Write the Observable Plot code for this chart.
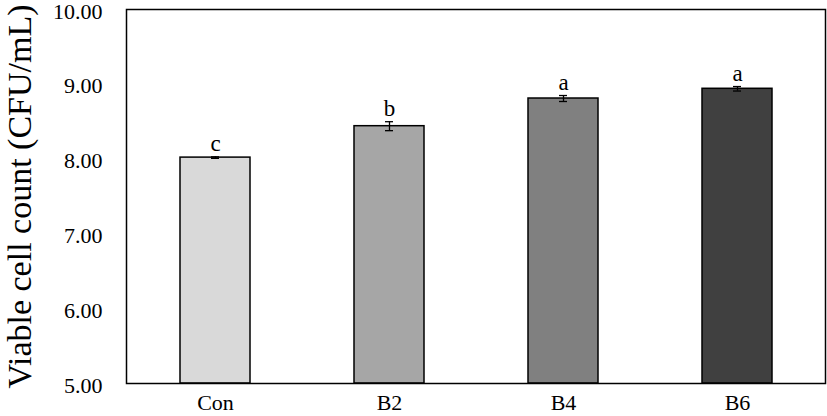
<!DOCTYPE html>
<html>
<head>
<meta charset="utf-8">
<script src="https://cdn.jsdelivr.net/npm/d3@7"></script>
<script src="https://cdn.jsdelivr.net/npm/@observablehq/plot@0.6"></script>
<style>
html, body { margin: 0; padding: 0; background: #fff; }
#chart svg, #chart svg text { font-family: "Liberation Serif", "Times New Roman", serif !important; }
</style>
</head>
<body>
<div id="chart"></div>
<script>
const categories = ["Con", "B2", "B4", "B6"];
const values = [8.02, 8.44, 8.81, 8.94];
const errors = [0.01, 0.06, 0.04, 0.03];
const letters = ["c", "b", "a", "a"];
const colors = ["#d9d9d9", "#a6a6a6", "#808080", "#404040"];
const yTicks = [5, 6, 7, 8, 9, 10];

const data = categories.map((c, i) => ({
  cat: c, v: values[i], e: errors[i], lab: letters[i], col: colors[i]
}));

const serif = "Liberation Serif, Times New Roman, serif";

const chart = Plot.plot({
  width: 827,
  height: 416,
  marginLeft: 126,
  marginRight: 2,
  marginTop: 9,
  marginBottom: 33,
  style: { fontFamily: serif, color: "#000", background: "#fff" },
  x: { domain: categories, paddingInner: 0.6, paddingOuter: 0.3, label: null, axis: null },
  y: { domain: [5, 10], label: null, axis: null },
  marks: [
    Plot.barY(data, { x: "cat", y1: 5, y2: "v", fill: "col", stroke: "#000", strokeWidth: 1.5 }),
    Plot.ruleX(data, { x: "cat", y1: d => d.v - d.e, y2: d => d.v + d.e, stroke: "#000", strokeWidth: 1.3 }),
    Plot.tickY(data, { x: "cat", y: d => d.v + d.e, stroke: "#000", strokeWidth: 1.3, insetLeft: 31, insetRight: 31 }),
    Plot.tickY(data, { x: "cat", y: d => d.v - d.e, stroke: "#000", strokeWidth: 1.3, insetLeft: 31, insetRight: 31 }),
    Plot.text(data, { x: "cat", y: d => d.v + d.e, text: "lab", dy: -13, fontSize: 23, fill: "#000", fontFamily: serif }),
    Plot.text(yTicks, { y: d => d, text: d => d.toFixed(2), frameAnchor: "left", textAnchor: "end", dx: -24, dy: 2, fontSize: 22, fill: "#000", fontFamily: serif }),
    Plot.text(categories, { x: d => d, text: d => d, frameAnchor: "bottom", lineAnchor: "top", dy: 11, fontSize: 22, fill: "#000", fontFamily: serif }),
    Plot.frame({ stroke: "#000", strokeWidth: 1.5 }),
    Plot.text(["Viable cell count (CFU/mL)"], { frameAnchor: "left", textAnchor: "middle", dx: -106, rotate: -90, fontSize: 34, fill: "#000", fontFamily: serif })
  ]
});
document.getElementById("chart").appendChild(chart);
</script>
</body>
</html>
